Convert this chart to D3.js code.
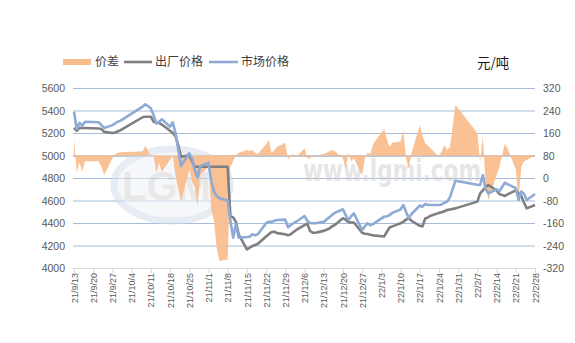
<!DOCTYPE html>
<html><head><meta charset="utf-8">
<script src="https://cdn.jsdelivr.net/npm/d3@7"></script>
<style>
html,body{margin:0;padding:0;background:#fff;}
svg{display:block;}
</style></head>
<body>
<svg id="chart" width="575" height="343"></svg>
<script>
// ---------- data ----------
const dates = ["2021-09-13","2021-09-14","2021-09-15","2021-09-16","2021-09-17","2021-09-22","2021-09-23","2021-09-24","2021-09-27","2021-09-28","2021-09-29","2021-09-30",
"2021-10-08","2021-10-09","2021-10-11","2021-10-12","2021-10-13","2021-10-14","2021-10-15","2021-10-18","2021-10-19","2021-10-20","2021-10-21","2021-10-22",
"2021-10-25","2021-10-26","2021-10-27","2021-10-28","2021-10-29","2021-11-01","2021-11-02","2021-11-03","2021-11-04","2021-11-05",
"2021-11-08","2021-11-09","2021-11-10","2021-11-11","2021-11-12","2021-11-15","2021-11-16","2021-11-17","2021-11-18","2021-11-19",
"2021-11-22","2021-11-23","2021-11-24","2021-11-25","2021-11-26","2021-11-29","2021-11-30","2021-12-01","2021-12-02","2021-12-03",
"2021-12-06","2021-12-07","2021-12-08","2021-12-09","2021-12-10","2021-12-13","2021-12-14","2021-12-15","2021-12-16","2021-12-17",
"2021-12-20","2021-12-21","2021-12-22","2021-12-23","2021-12-24","2021-12-27","2021-12-28","2021-12-29","2021-12-30","2021-12-31",
"2022-01-04","2022-01-05","2022-01-06","2022-01-07","2022-01-10","2022-01-11","2022-01-12","2022-01-13","2022-01-14",
"2022-01-17","2022-01-18","2022-01-19","2022-01-20","2022-01-21","2022-01-24","2022-01-25","2022-01-26","2022-01-27","2022-01-28","2022-01-30",
"2022-02-07","2022-02-08","2022-02-09","2022-02-10","2022-02-11","2022-02-14","2022-02-15","2022-02-16","2022-02-17","2022-02-18",
"2022-02-21","2022-02-22","2022-02-23","2022-02-24","2022-02-25","2022-02-28"];

const marketPrice = [5390,5235,5290,5265,5300,5295,5270,5245,5270,5285,5300,5310,
5434,5455,5420,5360,5286,5300,5322,5256,5295,5197,5050,4907,
5020,4975,4871,4806,4907,4935,4780,4680,4640,4620,
4600,4420,4270,4390,4270,4275,4278,4300,4290,4300,
4398,4411,4411,4420,4427,4430,4362,4382,4398,4411,
4462,4420,4400,4398,4398,4410,4430,4450,4471,4490,
4522,4470,4427,4460,4486,4338,4370,4398,4380,4390,
4456,4460,4470,4490,4520,4560,4500,4442,4480,
4555,4545,4569,4560,4560,4560,4565,4580,4590,4628,4776,
4740,4738,4827,4700,4664,4700,4680,4720,4758,4745,
4710,4604,4680,4660,4604,4658];

const factoryPrice = [5245,5220,5245,5245,5245,5240,5235,5210,5200,5205,5215,5225,
5340,5345,5345,5300,5290,5290,5275,5220,5200,5170,5090,4990,
5000,4950,4900,4900,4900,4900,4900,4900,4900,4900,
4900,4460,4450,4410,4300,4165,4180,4195,4205,4215,
4280,4300,4320,4322,4310,4300,4290,4300,4320,4338,
4382,4395,4330,4313,4313,4330,4340,4350,4370,4382,
4442,4430,4410,4405,4405,4313,4305,4302,4295,4290,
4280,4320,4360,4370,4398,4410,4430,4442,4420,
4375,4370,4440,4450,4465,4490,4495,4505,4515,4520,4530,
4590,4664,4690,4720,4738,4690,4658,4650,4640,4655,
4690,4665,4640,4580,4530,4560];

const priceSpread = [140,20,55,22,60,60,40,12,70,85,90,92,
94,115,75,80,20,55,22,65,80,8,-40,-83,
30,-15,-30,-100,10,40,-110,-150,-250,-295,
-290,40,60,80,90,100,95,100,90,85,
120,135,88,100,110,125,64,80,85,75,
106,70,70,80,80,85,90,95,100,95,
70,35,90,60,70,10,70,90,85,120,
175,140,110,125,130,170,70,35,90,
188,150,123,115,105,76,95,117,100,110,260,
160,58,147,-20,-78,10,40,80,123,105,
30,-78,40,60,64,80];

const leftTicks = [4000,4200,4400,4600,4800,5000,5200,5400,5600];
const rightTicks = [-320,-240,-160,-80,0,80,160,240,320];
const xTickLabels = ["21/9/13","21/9/20","21/9/27","21/10/4","21/10/11","21/10/18","21/10/25","21/11/1","21/11/8","21/11/15","21/11/22","21/11/29",
"21/12/6","21/12/13","21/12/20","21/12/27","22/1/3","22/1/10","22/1/17","22/1/24","22/1/31","22/2/7","22/2/14","22/2/21","22/2/28"];
const seriesNames = ["价差","出厂价格","市场价格"];
const unitLabel = "元/吨";

// ---------- setup ----------
const parseISO = d3.timeParse("%Y-%m-%d");
const parseTick = s => { const p = s.split("/").map(Number); return new Date(2000+p[0], p[1]-1, p[2]); };
const rows = dates.map((d,i)=>({date:parseISO(d), m:marketPrice[i], f:factoryPrice[i], s:priceSpread[i]}));
const tickDates = xTickLabels.map(parseTick);

const svg = d3.select("#chart");
const plotL = 73, plotR = 535, plotT = 88, plotB = 268;
const x = d3.scaleTime().domain([tickDates[0], tickDates[tickDates.length-1]]).range([74, 535]);
const yL = d3.scaleLinear().domain([4000,5600]).range([plotB, plotT]);
const yR = d3.scaleLinear().domain([-320,320]).range([plotB, plotT]);

const numFont = "'Liberation Sans', Arial, sans-serif";
const cjkFont = "'Noto Sans CJK SC', sans-serif";

// gridlines
svg.append("g").selectAll("line").data(leftTicks.filter(v=>v>4000)).join("line")
  .attr("x1", plotL).attr("x2", plotR)
  .attr("y1", d=>yL(d)+0.5).attr("y2", d=>yL(d)+0.5)
  .attr("stroke", d=> d===5000 ? "#7d8ea8" : "#a6bcda").attr("stroke-width", 1.2);

// watermark
const wm = svg.append("g").attr("opacity", 0.55);
wm.append("ellipse").attr("cx", 172).attr("cy", 185).attr("rx", 58).attr("ry", 36)
  .attr("fill", "#eef1f7").attr("stroke", "#d5dcea").attr("stroke-width", 7);
wm.append("text").attr("x", 172).attr("y", 200).attr("text-anchor","middle")
  .attr("font-family", numFont).attr("font-weight","bold").attr("font-size", 40)
  .attr("fill", "#d6d6d6").text("LGMI");
wm.append("text").attr("x", 303).attr("y", 181)
  .attr("font-family", "'DejaVu Sans', sans-serif").attr("font-weight","bold").attr("font-size", 31)
  .attr("textLength", 178).attr("lengthAdjust","spacingAndGlyphs")
  .attr("fill", "#d2d2d2").text("www.lgmi.com");

// area (价差) on right axis, filled to 80 baseline
const area = d3.area().x(d=>x(d.date)).y0(yR(80)).y1(d=>yR(d.s));
svg.append("path").datum(rows).attr("d", area).attr("fill", "#f9be8e").attr("opacity", 0.95);

// lines
const lineF = d3.line().x(d=>x(d.date)).y(d=>yL(d.f));
const lineM = d3.line().x(d=>x(d.date)).y(d=>yL(d.m));
svg.append("path").datum(rows).attr("d", lineF).attr("fill","none").attr("stroke","#7f7f7f").attr("stroke-width",2.6).attr("stroke-linejoin","round");
svg.append("path").datum(rows).attr("d", lineM).attr("fill","none").attr("stroke","#8eaad6").attr("stroke-width",2.6).attr("stroke-linejoin","round");

// left axis
const axL = svg.append("g").attr("transform", `translate(${plotL-8},0)`)
  .call(d3.axisLeft(yL).tickValues(leftTicks).tickSize(0).tickPadding(0).tickFormat(d3.format("d")));
axL.select(".domain").remove();
axL.selectAll("text").attr("font-family", numFont).attr("font-size", 10.5).attr("fill", "#595959").attr("dy","0.35em");

// right axis
const axR = svg.append("g").attr("transform", `translate(${plotR+8},0)`)
  .call(d3.axisRight(yR).tickValues(rightTicks).tickSize(0).tickPadding(0).tickFormat(d=> d<0 ? "-"+Math.abs(d) : String(d)));
axR.select(".domain").remove();
axR.selectAll("text").attr("font-family", numFont).attr("font-size", 10.5).attr("fill", "#595959").attr("dy","0.35em");

// bottom axis
const axB = svg.append("g").attr("transform", `translate(0,${plotB})`)
  .call(d3.axisBottom(x).tickValues(tickDates).tickSize(5).tickFormat((d,i)=>xTickLabels[i]));
axB.select(".domain").attr("d", `M${plotL},0.5H${plotR}`).attr("stroke","#d9d9d9");
axB.selectAll(".tick line").attr("stroke","#d9d9d9");
axB.selectAll("text").attr("font-family", numFont).attr("font-size", 9).attr("fill", "#595959")
  .attr("transform","rotate(-90)").attr("text-anchor","end").attr("x", -5).attr("y", 0).attr("dy","0.35em");

// legend
const lg = svg.append("g").attr("font-family", cjkFont).attr("font-size", 12).attr("fill", "#404040");
lg.append("rect").attr("x", 63).attr("y", 59).attr("width", 28).attr("height", 6).attr("fill", "#f9be8e");
lg.append("text").attr("x", 95).attr("y", 62).attr("dy","0.35em").text(seriesNames[0]);
lg.append("line").attr("x1",124).attr("x2",152).attr("y1",62).attr("y2",62).attr("stroke","#7f7f7f").attr("stroke-width",2.6);
lg.append("text").attr("x", 155).attr("y", 62).attr("dy","0.35em").text(seriesNames[1]);
lg.append("line").attr("x1",209).attr("x2",238).attr("y1",62).attr("y2",62).attr("stroke","#8eaad6").attr("stroke-width",2.6);
lg.append("text").attr("x", 241).attr("y", 62).attr("dy","0.35em").text(seriesNames[2]);

svg.append("text").attr("x", 477).attr("y", 63).attr("dy","0.35em")
  .attr("font-family", cjkFont).attr("font-size", 13.5).attr("fill", "#1a1a1a").text(unitLabel);
</script>
</body></html>
